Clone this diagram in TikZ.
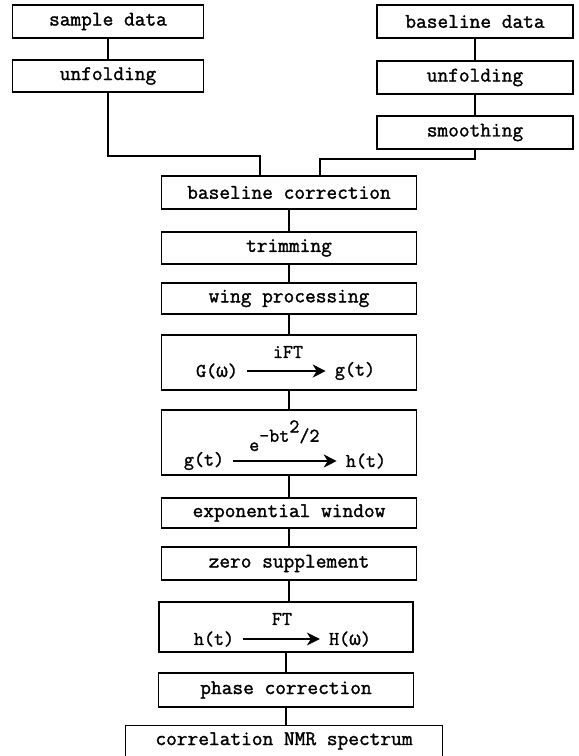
\documentclass[tikz,border=0pt]{standalone}
\usepackage{fontspec}
\setmonofont{Latin Modern Mono}[FakeBold=1.5]
\newfontfamily\greekmono{Liberation Mono}[FakeBold=1]
\usetikzlibrary{arrows.meta,calc}

\tikzset{
  stepbox/.style={draw,line width=1.5pt,inner sep=0pt,font=\ttfamily\fontsize{20.8}{22}\selectfont},
  link/.style={line width=1.5pt},
  txt/.style={inner xsep=9pt,inner ysep=0pt,font=\ttfamily\fontsize{19.5}{22}\selectfont},
  map/.style={line width=1.5pt,-{Stealth[length=13pt,width=13pt,inset=4pt]}}
}

\begin{document}
\begin{tikzpicture}[x=1pt,y=-1pt]
    \useasboundingbox (0,0) rectangle (579,756);

    % sample branch
    \node[stepbox,minimum width=191pt,minimum height=33pt] (sample) at (108,21.5) {sample data};
    \node[stepbox,minimum width=191pt,minimum height=32pt] (unfoldL) at (108,76) {unfolding};

    % baseline branch
    \node[stepbox,minimum width=196pt,minimum height=33pt] (basedata) at (475,21.5) {baseline data};
    \node[stepbox,minimum width=196pt,minimum height=33pt] (unfoldR) at (475,77.5) {unfolding};
    \node[stepbox,minimum width=196pt,minimum height=33pt] (smooth) at (475,132.5) {smoothing};

    % main column
    \node[stepbox,minimum width=255pt,minimum height=33pt] (bc) at (289,192.5) {baseline correction};
    \node[stepbox,minimum width=255pt,minimum height=32pt] (trim) at (289,248) {trimming};
    \node[stepbox,minimum width=255pt,minimum height=31pt] (wing) at (289,298.5) {wing processing};
    \node[stepbox,minimum width=255pt,minimum height=55pt] (ift) at (289,362.5) {};
    \node[stepbox,minimum width=255pt,minimum height=65pt] (gauss) at (289,442.5) {};
    \node[stepbox,minimum width=255pt,minimum height=30pt] (expw) at (289,513) {exponential window};
    \node[stepbox,minimum width=255pt,minimum height=33pt] (zero) at (289,563.5) {zero supplement};
    \node[stepbox,minimum width=254pt,minimum height=50pt] (ft) at (286,627) {};
    \node[stepbox,minimum width=255pt,minimum height=34pt] (phase) at (286,690) {phase correction};
    \node[stepbox,minimum width=317pt,minimum height=31pt] (corr) at (284,741) {correlation NMR spectrum};

    % inside the transform boxes
    \node[txt] (Gw) at (217,371) {G({\greekmono ω})};
    \node[txt] (gt) at (355,371) {g(t)};
    \node[txt] at (288,352) {iFT};
    \draw[map] (Gw) -- (gt);

    \node[txt] (gt2) at (204,461) {g(t)};
    \node[txt] (ht) at (366,461) {h(t)};
    \node[txt,inner sep=0pt,anchor=base west] at (249,451) {e\raisebox{1.1ex}{-bt\raisebox{1.1ex}{2}/2}};
    \draw[map] (gt2) -- (ht);

    \node[txt] (ht2) at (214,639) {h(t)};
    \node[txt] (Hw) at (350,639) {H({\greekmono ω})};
    \node[txt] at (282,619) {FT};
    \draw[map] (ht2) -- (Hw);

    % connectors
    \draw[link] (sample) -- (unfoldL);
    \draw[link] (basedata) -- (unfoldR);
    \draw[link] (unfoldR) -- (smooth);

    \coordinate (jl) at (260,156);
    \coordinate (jr) at (320,159);
    \draw[link] (unfoldL.south) |- (jl) -- (jl |- bc.north);
    \draw[link] (smooth.south) |- (jr) -- (jr |- bc.north);

    \draw[link] (bc.south) -- (bc.south |- trim.north);
    \draw[link] (trim.south) -- (trim.south |- wing.north);
    \draw[link] (wing.south) -- (wing.south |- ift.north);
    \draw[link] (ift.south) -- (ift.south |- gauss.north);
    \draw[link] (gauss.south) -- (gauss.south |- expw.north);
    \draw[link] (expw.south) -- (expw.south |- zero.north);
    \draw[link] (zero.south) -- (zero.south |- ft.north);
    \draw[link] (ft.south) -- (ft.south |- phase.north);
    \draw[link] (phase.south) -- (phase.south |- corr.north);
\end{tikzpicture}
\end{document}
